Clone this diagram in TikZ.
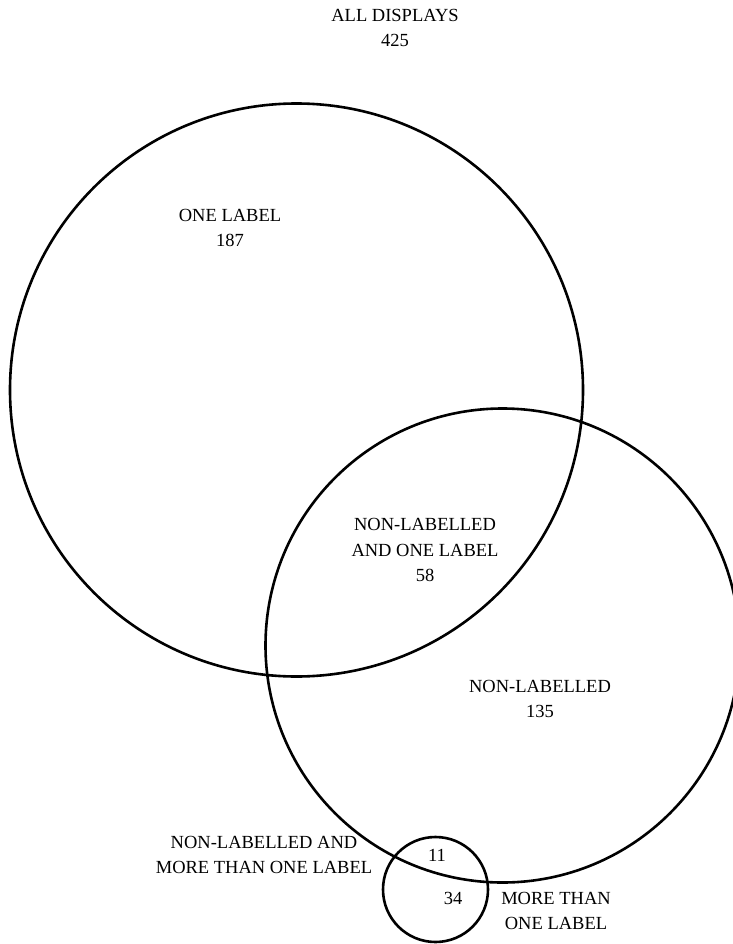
\documentclass[tikz,border=0pt]{standalone}
\usepackage{fontspec}
\setmainfont{Liberation Serif}
\begin{document}
\begin{tikzpicture}[x=1pt,y=-1pt,
  setcircle/.style={circle,draw=black,line width=2.6pt,inner sep=0pt,fill=none},
  lbl/.style={align=center,inner sep=0pt,font=\fontsize{18.5}{25.5}\selectfont}]
\useasboundingbox (0,0) rectangle (732,944);
\node[setcircle,minimum size=573pt] (one) at (296.5,390) {};
\node[setcircle,minimum size=474pt] (non) at (502.5,645.5) {};
\node[setcircle,minimum size=105pt] (more) at (435.5,889.5) {};
\node[lbl] (all) at (395,28) {ALL DISPLAYS\\425};
\node[lbl] (onel) at (230,228) {ONE LABEL\\187};
\node[lbl] (nonone) at (425,550) {NON-LABELLED\\AND ONE LABEL\\58};
\node[lbl] (nonl) at (540,699) {NON-LABELLED\\135};
\node[lbl] (nonmore) at (264,855) {NON-LABELLED AND\\MORE THAN ONE LABEL};
\node[lbl] (eleven) at (437,855) {11};
\node[lbl] (thirtyfour) at (453,898) {34};
\node[lbl] (morel) at (556,911) {MORE THAN\\ONE LABEL};
\end{tikzpicture}
\end{document}
